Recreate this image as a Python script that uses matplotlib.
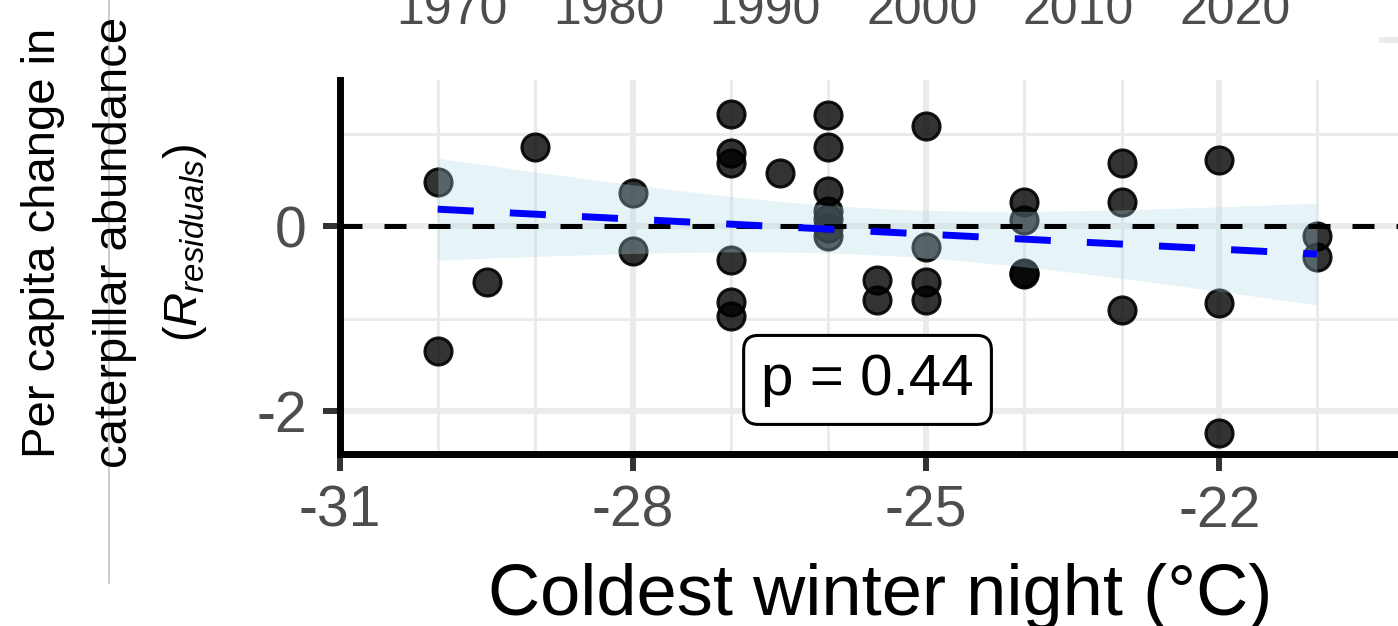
import matplotlib.pyplot as plt
import matplotlib.transforms as mtransforms
from matplotlib.lines import Line2D
import numpy as np

# Residual per capita change vs coldest winter night
temp_c = [-30, -30,
          -29.5,
          -29,
          -28, -28,
          -27, -27, -27, -27, -27, -27,
          -26.5,
          -26, -26, -26, -26, -26, -26, -26,
          -25.5, -25.5,
          -25, -25, -25, -25,
          -24, -24, -24, -24,
          -23, -23, -23,
          -22, -22, -22,
          -21, -21]
resid = [0.48, -1.35,
         -0.60,
         0.86,
         0.36, -0.27,
         1.21, 0.79, 0.68, -0.36, -0.82, -0.97,
         0.58,
         1.20, 0.86, 0.38, 0.17, 0.08, -0.02, -0.11,
         -0.58, -0.80,
         1.08, -0.22, -0.60, -0.80,
         0.26, 0.07, -0.51, -0.52,
         0.68, 0.26, -0.90,
         0.72, -0.83, -2.23,
         -0.11, -0.33]
p_value = 0.44

x_ticks = [-31, -28, -25, -22]
y_ticks = [-2, 0]
year_labels = [1970, 1980, 1990, 2000, 2010, 2020]

plt.rcParams['font.family'] = ['Liberation Sans', 'DejaVu Sans']
plt.rcParams['axes.unicode_minus'] = False
plt.rcParams['mathtext.fontset'] = 'custom'
plt.rcParams['mathtext.rm'] = 'Liberation Sans'
plt.rcParams['mathtext.it'] = 'Liberation Sans:italic'

fig = plt.figure(figsize=(13.98, 6.26), dpi=100)
ax = fig.add_axes([0.2432, 0.2748, 0.7568, 0.5974])

# linear fit with 95% confidence band
X = np.array(temp_c)
Y = np.array(resid)
n = len(X)
b1, b0 = np.polyfit(X, Y, 1)
s = np.sqrt(np.sum((Y - (b0 + b1 * X)) ** 2) / (n - 2))
sxx = np.sum((X - X.mean()) ** 2)
xs = np.linspace(X.min(), X.max(), 100)
fit = b0 + b1 * xs
se = s * np.sqrt(1 / n + (xs - X.mean()) ** 2 / sxx)
t_crit = 2.028  # t(0.975, df = 36)

ax.scatter(X, Y, s=380, facecolor=(0, 0, 0, 0.8), edgecolor=(0, 0, 0, 0.9),
           linewidth=2.2, zorder=2)
ax.fill_between(xs, fit - t_crit * se, fit + t_crit * se, color='lightblue',
                alpha=0.3, linewidth=0, zorder=3)
ax.axhline(0, color='black', lw=3.6, linestyle=(0, (4.4, 4.4)), zorder=4)
ax.plot(xs, fit, color='blue', lw=5, linestyle=(0, (5.2, 5.2)), zorder=5)

ax.text(-25.6, -1.66, f"p = {p_value}", fontsize=42, ha='center', va='center',
        zorder=6,
        bbox=dict(boxstyle='round,pad=0.3,rounding_size=0.25', fc='white',
                  ec='black', lw=2.2))

ax.set_xlim(-31, -20.17)
ax.set_ylim(-2.46, 1.58)
ax.set_xticks(x_ticks)
ax.set_yticks(y_ticks)
ax.set_xticks(np.arange(-30, -20), minor=True)
ax.set_yticks([-1, 1], minor=True)
ax.grid(which='major', color='#EBEBEB', lw=4.3, zorder=0)
ax.grid(which='minor', color='#EBEBEB', lw=2.2, zorder=0)
ax.set_axisbelow(True)
ax.tick_params(which='major', length=12, width=4.3, color='#333333',
               labelcolor='#4D4D4D', labelsize=41)
ax.tick_params(axis='x', which='major', pad=10)
ax.tick_params(axis='y', which='major', pad=12)
ax.tick_params(which='minor', length=0)
for side in ['top', 'right']:
    ax.spines[side].set_visible(False)
for side in ['left', 'bottom']:
    ax.spines[side].set_linewidth(5)
    ax.spines[side].set_color('black')

# axis titles
fig.text(0.6295, 0.0176, "Coldest winter night (°C)", fontsize=52,
         ha='center', va='baseline')
fig.text(0.031, 0.6125, "Per capita change in", fontsize=34, rotation=90,
         ha='center', va='center')
fig.text(0.082, 0.6125, "caterpillar abundance", fontsize=34, rotation=90,
         ha='center', va='center')
fig.text(0.132, 0.6125, r"$(R_{residuals})$", fontsize=34, rotation=90,
         ha='center', va='center')

# year axis of the panel above
yr_ax = fig.add_axes([452 / 1398, 0.95, (1235 - 452) / 1398, 0.01])
yr_ax.set_xlim(1970, 2020)
yr_ax.axis('off')
trans = mtransforms.blended_transform_factory(yr_ax.transData, fig.transFigure)
for yr in year_labels:
    yr_ax.text(yr, 1 - 24.5 / 626, str(yr), transform=trans, fontsize=36,
               color='#4D4D4D', ha='center', va='baseline')

# panel edges
fig.add_artist(Line2D([109 / 1398, 109 / 1398], [1, 1 - 583 / 626],
                      color='#BDBDBD', lw=1.1))
fig.add_artist(Line2D([1382 / 1398, 1], [1 - 40 / 626, 1 - 40 / 626],
                      color='#EBEBEB', lw=4.3))

fig.savefig("out.png", dpi=100)
